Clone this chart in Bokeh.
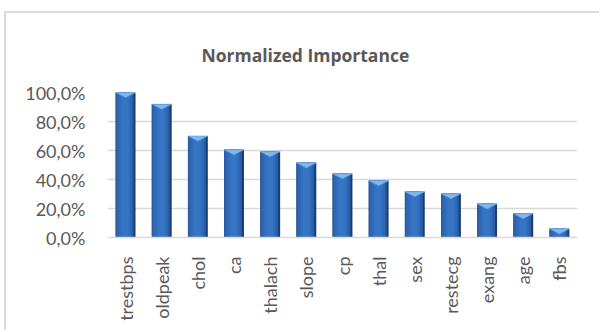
import numpy as np
from bokeh.plotting import figure
from bokeh.models import Range1d, FixedTicker
from bokeh.embed import file_html
from bokeh.resources import INLINE

categories = ["trestbps", "oldpeak", "chol", "ca", "thalach", "slope", "cp",
              "thal", "sex", "restecg", "exang", "age", "fbs"]
importance = [1.000, 0.919, 0.700, 0.605, 0.592, 0.515, 0.440,
              0.392, 0.316, 0.302, 0.232, 0.165, 0.060]
y_ticks = [0.0, 0.2, 0.4, 0.6, 0.8, 1.0]
y_tick_labels = ["0,0%", "20,0%", "40,0%", "60,0%", "80,0%", "100,0%"]
title_text = "Normalized Importance"

# outer chart box (border at left / top)
MX, MY, BW = 4, 11, 2
CX, CY = MX + BW, MY + BW
W, H = 601 - CX, 332 - CY
L, R, T, B = 107 - CX, 24, 92 - CY, 332 - 237

p = figure(width=W, height=H, output_backend="svg", toolbar_location=None,
           x_range=Range1d(-0.5, len(categories) - 0.5), y_range=Range1d(0, 1.0),
           min_border_left=L, min_border_right=R, min_border_top=T, min_border_bottom=B,
           background_fill_color="white", border_fill_color="white")
p.margin = (MY, 0, 0, MX)
p.styles = {"border-top": f"{BW}px solid #dcdcdc", "border-left": f"{BW}px solid #dcdcdc"}
p.outline_line_color = None
p.xgrid.grid_line_color = None
p.ygrid.ticker = FixedTicker(ticks=y_ticks)
p.ygrid.grid_line_color = "#d9d9d9"
p.ygrid.grid_line_width = 1.5

xs = np.arange(len(categories))
vals = np.array(importance)
bw = 0.55

# cylinder-like bars: nested layers, widest/darkest first
layers = [(1.00, 0.00, "#1a3d74"),
          (0.90, -0.05, "#2a5ca3"),
          (0.75, -0.06, "#2f66b2"),
          (0.55, -0.04, "#326dbd"),
          (0.35, -0.03, "#3674c4")]
for frac, off, c in layers:
    p.vbar(x=xs + off * bw, top=vals, bottom=0, width=bw * frac, color=c, line_color=None)

# light pyramid top
h = 0.035
tx = [[x - bw / 2, x + bw / 2, x] for x in xs]
ty = [[v, v, v - h] for v in vals]
p.patches(tx, ty, fill_color="#7fb8ee", line_color="#5d9de0", line_width=0.6)

# axes
p.yaxis.ticker = FixedTicker(ticks=y_ticks)
p.yaxis.major_label_overrides = {t: s for t, s in zip(y_ticks, y_tick_labels)}
p.yaxis.axis_line_color = None
p.yaxis.major_tick_line_color = None
p.yaxis.minor_tick_line_color = None
p.yaxis.major_label_standoff = 16
p.yaxis.major_label_text_font = "Lato"
p.yaxis.major_label_text_font_size = "18px"
p.yaxis.major_label_text_color = "#595959"

p.xaxis.ticker = FixedTicker(ticks=list(xs))
p.xaxis.major_label_overrides = {int(i): c for i, c in zip(xs, categories)}
p.xaxis.major_label_orientation = np.pi / 2
p.xaxis.axis_line_color = "#d9d9d9"
p.xaxis.axis_line_width = 1.5
p.xaxis.major_tick_line_color = None
p.xaxis.minor_tick_line_color = None
p.xaxis.major_label_standoff = 13
p.xaxis.major_label_text_font = "Lato"
p.xaxis.major_label_text_font_size = "18px"
p.xaxis.major_label_text_color = "#595959"

# title
p.title.text = title_text
p.title.align = "left"
p.title.offset = 94
p.title.standoff = 52
p.title.text_font = "Open Sans"
p.title.text_font_style = "bold"
p.title.text_font_size = "17.5px"
p.title.text_color = "#595959"

open("out.html", "w").write(file_html(p, INLINE))
